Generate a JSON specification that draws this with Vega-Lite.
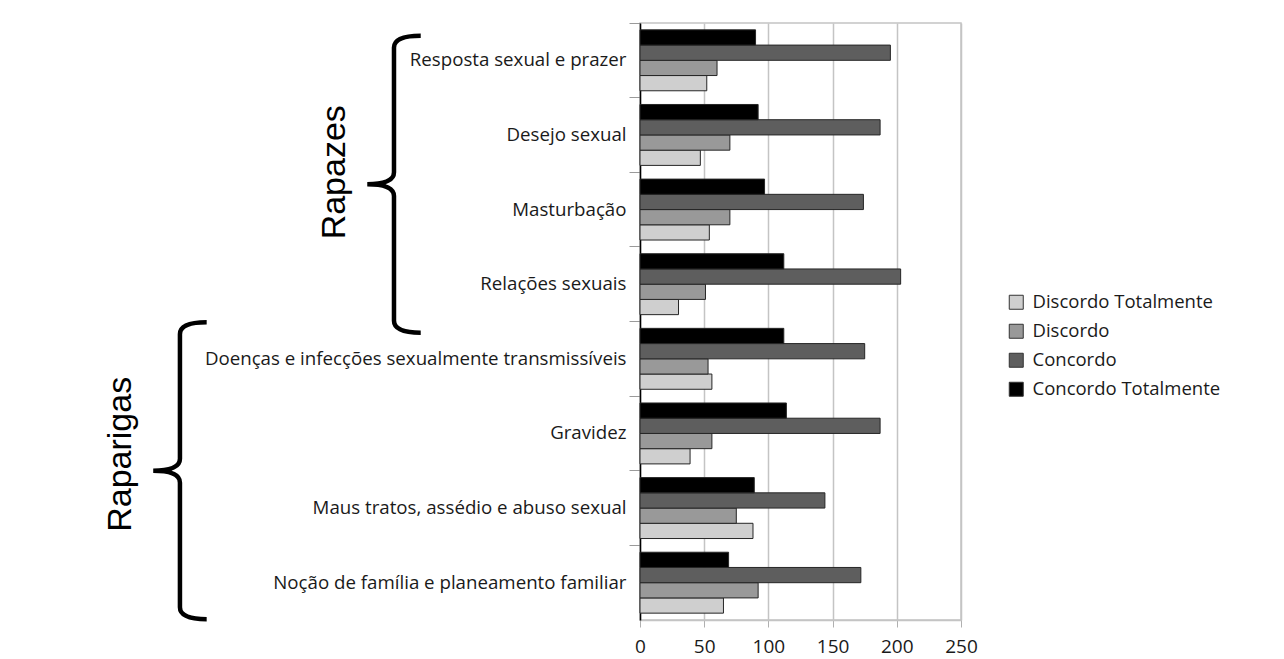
{
  "$schema": "https://vega.github.io/schema/vega-lite/v6.json",
  "width": 321,
  "height": 597,
  "autosize": {"type": "none"},
  "padding": {"left": 640, "top": 23, "right": 323, "bottom": 39},
  "background": "white",
  "config": {
    "view": {"stroke": "#c4c4c4", "strokeWidth": 1.5},
    "font": "Open Sans"
  },
  "datasets": {
    "bars": [
      {"tema": "Resposta sexual e prazer", "resposta": "Discordo Totalmente", "valor": 52},
      {"tema": "Resposta sexual e prazer", "resposta": "Discordo", "valor": 60},
      {"tema": "Resposta sexual e prazer", "resposta": "Concordo", "valor": 195},
      {"tema": "Resposta sexual e prazer", "resposta": "Concordo Totalmente", "valor": 90},
      {"tema": "Desejo sexual", "resposta": "Discordo Totalmente", "valor": 47},
      {"tema": "Desejo sexual", "resposta": "Discordo", "valor": 70},
      {"tema": "Desejo sexual", "resposta": "Concordo", "valor": 187},
      {"tema": "Desejo sexual", "resposta": "Concordo Totalmente", "valor": 92},
      {"tema": "Masturbação", "resposta": "Discordo Totalmente", "valor": 54},
      {"tema": "Masturbação", "resposta": "Discordo", "valor": 70},
      {"tema": "Masturbação", "resposta": "Concordo", "valor": 174},
      {"tema": "Masturbação", "resposta": "Concordo Totalmente", "valor": 97},
      {"tema": "Relações sexuais", "resposta": "Discordo Totalmente", "valor": 30},
      {"tema": "Relações sexuais", "resposta": "Discordo", "valor": 51},
      {"tema": "Relações sexuais", "resposta": "Concordo", "valor": 203},
      {"tema": "Relações sexuais", "resposta": "Concordo Totalmente", "valor": 112},
      {"tema": "Doenças e infecções sexualmente transmissíveis", "resposta": "Discordo Totalmente", "valor": 56},
      {"tema": "Doenças e infecções sexualmente transmissíveis", "resposta": "Discordo", "valor": 53},
      {"tema": "Doenças e infecções sexualmente transmissíveis", "resposta": "Concordo", "valor": 175},
      {"tema": "Doenças e infecções sexualmente transmissíveis", "resposta": "Concordo Totalmente", "valor": 112},
      {"tema": "Gravidez", "resposta": "Discordo Totalmente", "valor": 39},
      {"tema": "Gravidez", "resposta": "Discordo", "valor": 56},
      {"tema": "Gravidez", "resposta": "Concordo", "valor": 187},
      {"tema": "Gravidez", "resposta": "Concordo Totalmente", "valor": 114},
      {"tema": "Maus tratos, assédio e abuso sexual", "resposta": "Discordo Totalmente", "valor": 88},
      {"tema": "Maus tratos, assédio e abuso sexual", "resposta": "Discordo", "valor": 75},
      {"tema": "Maus tratos, assédio e abuso sexual", "resposta": "Concordo", "valor": 144},
      {"tema": "Maus tratos, assédio e abuso sexual", "resposta": "Concordo Totalmente", "valor": 89},
      {"tema": "Noção de família e planeamento familiar", "resposta": "Discordo Totalmente", "valor": 65},
      {"tema": "Noção de família e planeamento familiar", "resposta": "Discordo", "valor": 92},
      {"tema": "Noção de família e planeamento familiar", "resposta": "Concordo", "valor": 172},
      {"tema": "Noção de família e planeamento familiar", "resposta": "Concordo Totalmente", "valor": 69}
    ],
    "braces": [
      {"grupo": "Rapazes", "x": -191.6, "y": 5.84},
      {"grupo": "Raparigas", "x": -358.3, "y": 2.0}
    ],
    "grupos": [
      {"grupo": "Rapazes", "x": -237.5, "y": 6.0},
      {"grupo": "Raparigas", "x": -404, "y": 2.22}
    ]
  },
  "layer": [
    {
      "data": {"name": "bars"},
      "mark": {"type": "bar", "stroke": "#262626", "strokeWidth": 1},
      "encoding": {
        "y": {
          "field": "tema",
          "type": "nominal",
          "sort": [
            "Resposta sexual e prazer",
            "Desejo sexual",
            "Masturbação",
            "Relações sexuais",
            "Doenças e infecções sexualmente transmissíveis",
            "Gravidez",
            "Maus tratos, assédio e abuso sexual",
            "Noção de família e planeamento familiar"
          ],
          "scale": {"paddingInner": 0, "paddingOuter": 0},
          "axis": {
            "title": null,
            "bandPosition": 0,
            "domainColor": "#000000",
            "domainWidth": 1.5,
            "tickColor": "#9a9a9a",
            "tickSize": 11,
            "labelFontSize": 18.7,
            "labelColor": "#1a1a1a",
            "labelPadding": 3,
            "labelLimit": 700,
            "grid": false
          }
        },
        "yOffset": {
          "field": "resposta",
          "type": "nominal",
          "sort": ["Concordo Totalmente", "Concordo", "Discordo", "Discordo Totalmente"],
          "scale": {"paddingInner": 0, "paddingOuter": 0.45}
        },
        "x": {
          "field": "valor",
          "type": "quantitative",
          "scale": {"domain": [0, 250], "nice": false},
          "axis": {
            "title": null,
            "values": [0, 50, 100, 150, 200, 250],
            "grid": true,
            "gridColor": "#c4c4c4",
            "gridWidth": 1.5,
            "domainColor": "#c4c4c4",
            "domainWidth": 1.5,
            "tickColor": "#b0b0b0",
            "tickSize": 7,
            "labelFontSize": 19,
            "labelColor": "#1a1a1a",
            "labelPadding": 10,
            "labelFlush": false
          }
        },
        "color": {
          "field": "resposta",
          "type": "nominal",
          "scale": {
            "domain": ["Discordo Totalmente", "Discordo", "Concordo", "Concordo Totalmente"],
            "range": ["#cfcfcf", "#999999", "#5e5e5e", "#000000"]
          },
          "legend": {
            "title": null,
            "orient": "none",
            "legendX": 367,
            "legendY": 270,
            "symbolType": "square",
            "symbolSize": 196,
            "symbolStrokeColor": "#333333",
            "symbolStrokeWidth": 1,
            "symbolOpacity": 1,
            "labelFontSize": 18.5,
            "labelColor": "#1a1a1a",
            "labelOffset": 7,
            "labelLimit": 400,
            "rowPadding": 10
          }
        }
      }
    },
    {
      "data": {"name": "braces"},
      "mark": {
        "type": "point",
        "shape": "M 0.18 -1 Q 0 -1 0 -0.92 L 0 -0.08 Q 0 0 -0.18 0 Q 0 0 0 0.08 L 0 0.92 Q 0 1 0.18 1",
        "size": 88209,
        "filled": false,
        "stroke": "#000000",
        "strokeWidth": 4.5,
        "opacity": 1
      },
      "encoding": {
        "x": {"field": "x", "type": "quantitative", "scale": {"domain": [0, 250], "nice": false}, "axis": {"title": null}},
        "y": {"field": "y", "type": "quantitative", "scale": {"domain": [0, 8], "nice": false, "zero": false}, "axis": null}
      }
    },
    {
      "data": {"name": "grupos"},
      "mark": {
        "type": "text",
        "angle": 270,
        "font": "Liberation Sans",
        "fontSize": 34,
        "align": "center",
        "baseline": "middle",
        "color": "#000000"
      },
      "encoding": {
        "x": {"field": "x", "type": "quantitative", "scale": {"domain": [0, 250], "nice": false}, "axis": {"title": null}},
        "y": {"field": "y", "type": "quantitative", "scale": {"domain": [0, 8], "nice": false, "zero": false}, "axis": null},
        "text": {"field": "grupo", "type": "nominal"}
      }
    }
  ],
  "resolve": {"scale": {"y": "independent"}}
}
